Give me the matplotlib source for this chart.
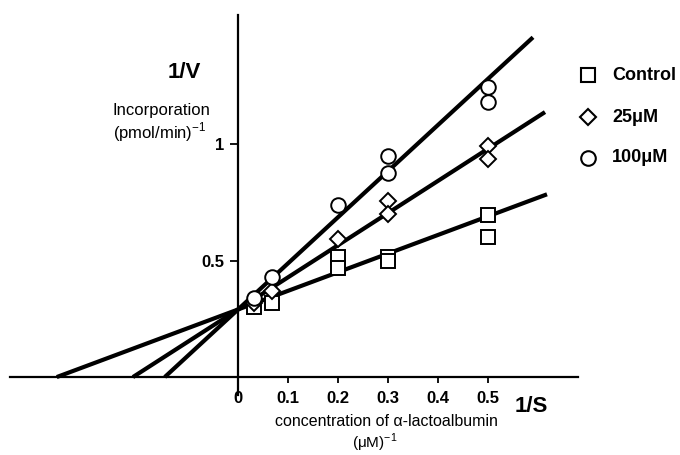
import numpy as np
import matplotlib
matplotlib.use("Agg")
import matplotlib.pyplot as plt

plt.rcParams['font.family'] = ['Liberation Sans', 'DejaVu Sans']
plt.rcParams['mathtext.fontset'] = 'custom'
plt.rcParams['mathtext.rm'] = 'Liberation Sans'
plt.rcParams['mathtext.bf'] = 'Liberation Sans:bold'

# 1/S values and 1/V values
ctrl_x = [0.033, 0.067, 0.2, 0.2, 0.3, 0.3, 0.5, 0.5]
ctrl_y = [0.30, 0.32, 0.515, 0.468, 0.515, 0.50, 0.695, 0.60]
mid_x = [0.033, 0.067, 0.2, 0.3, 0.3, 0.5, 0.5]
mid_y = [0.32, 0.37, 0.592, 0.755, 0.70, 0.99, 0.936]
high_x = [0.033, 0.067, 0.2, 0.3, 0.3, 0.5, 0.5]
high_y = [0.34, 0.43, 0.738, 0.948, 0.876, 1.245, 1.18]

# fitted lines: y-intercept, slope, right end of each line
fit_b = [0.29, 0.29, 0.29]
fit_m = [0.80, 1.38, 1.98]
fit_end = [0.618, 0.614, 0.59]

xticks = [0, 0.1, 0.2, 0.3, 0.4, 0.5]
xtick_labels = ['0', '0.1', '0.2', '0.3', '0.4', '0.5']
yticks = [0.5, 1]
ytick_labels = ['0.5', '1']
legend_labels = ['Control', '25\u03bcM', '100\u03bcM']

W, H = 680, 455
fig = plt.figure(figsize=(6.8, 4.55), dpi=100)
ax = fig.add_axes([10 / W, 1 - 395 / H, 568 / W, 380 / H])
ax.set_xlim(-0.456, 0.68)
ax.set_ylim(-0.077, 1.554)

for s in ['top', 'right']:
    ax.spines[s].set_visible(False)
ax.spines['left'].set_position(('data', 0))
ax.spines['bottom'].set_position(('data', 0))
for s in ['left', 'bottom']:
    ax.spines[s].set_linewidth(1.6)

ax.set_xticks(xticks)
ax.set_xticklabels(xtick_labels, fontweight='bold', fontsize=12)
ax.set_yticks(yticks)
ax.set_yticklabels(ytick_labels, fontweight='bold', fontsize=12)
ax.tick_params(axis='x', direction='out', length=4, width=1.3, pad=6)
ax.tick_params(axis='y', direction='out', length=6, width=1.3, pad=4)

# lines run from the x-intercept to their end
for b, m, xe in zip(fit_b, fit_m, fit_end):
    xs = np.array([-b / m, xe])
    ax.plot(xs, b + m * xs, color='black', lw=3, solid_capstyle='butt', zorder=2)

mk = dict(mfc='white', mec='black', mew=1.4, ls='none', zorder=3, clip_on=False)
ax.plot(ctrl_x, ctrl_y, marker='s', ms=10, **mk)
ax.plot(mid_x, mid_y, marker='D', ms=8.5, **mk)
ax.plot(high_x, high_y, marker='o', ms=10.5, **mk)

# legend drawn by hand to keep the loose layout of the original
leg_y = [75, 117, 158]
leg_m = ['s', 'D', 'o']
leg_ms = [10, 8.5, 10.5]
for yy, m, ms, lab in zip(leg_y, leg_m, leg_ms, legend_labels):
    fig.lines.append(plt.Line2D([588 / W], [1 - yy / H], marker=m, ms=ms,
                                mfc='white', mec='black', mew=1.5,
                                transform=fig.transFigure))
    fig.text(612 / W, 1 - yy / H, lab, fontsize=13, fontweight='bold',
             va='center', ha='left')

fig.text(184 / W, 1 - 73 / H, '1/V', fontsize=16, fontweight='bold',
         ha='center', va='center')
fig.text(113 / W, 1 - 110 / H, 'Incorporation', fontsize=12,
         ha='left', va='center')
fig.text(113 / W, 1 - 132 / H, '(pmol/min)$^{-1}$', fontsize=12,
         ha='left', va='center')
fig.text(531 / W, 1 - 406 / H, '1/S', fontsize=16, fontweight='bold',
         ha='center', va='center')
fig.text(386 / W, 1 - 422 / H, 'concentration of \u03b1-lactoalbumin',
         fontsize=11.5, ha='center', va='center')
fig.text(375 / W, 1 - 443 / H, '(\u03bcM)$^{-1}$', fontsize=11,
         ha='center', va='center')

fig.savefig('out.png', dpi=100)
